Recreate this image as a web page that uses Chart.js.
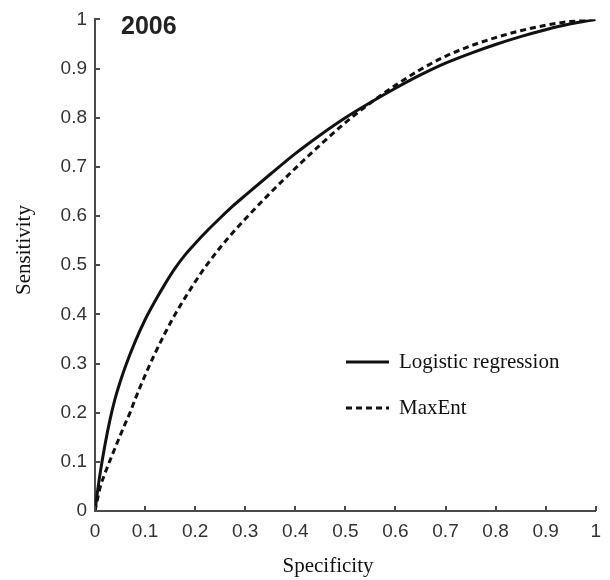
<!DOCTYPE html>
<html>
<head>
<meta charset="utf-8">
<script src="https://cdn.jsdelivr.net/npm/chart.js@4"></script>
<style>
html,body{margin:0;padding:0;background:#fff;}
canvas{display:block;}
</style>
</head>
<body>
<canvas id="c" width="610" height="580"></canvas>
<script>
// ---- data ----
const panelTitle = "2006";
const xTitle = "Specificity";
const yTitle = "Sensitivity";
const seriesNames = ["Logistic regression", "MaxEnt"];
const tickValues = [0, 0.1, 0.2, 0.3, 0.4, 0.5, 0.6, 0.7, 0.8, 0.9, 1];
const tickLabels = ["0", "0.1", "0.2", "0.3", "0.4", "0.5", "0.6", "0.7", "0.8", "0.9", "1"];

const logisticX = [0, 0.005, 0.01, 0.02, 0.03, 0.04, 0.05, 0.06, 0.08, 0.10, 0.12, 0.14, 0.16, 0.18, 0.20, 0.225, 0.25, 0.275, 0.30, 0.35, 0.40, 0.45, 0.50, 0.55, 0.60, 0.65, 0.70, 0.75, 0.80, 0.85, 0.90, 0.95, 1.0];
const logisticY = [0, 0.040, 0.075, 0.135, 0.186, 0.228, 0.262, 0.292, 0.344, 0.389, 0.427, 0.462, 0.494, 0.521, 0.544, 0.571, 0.596, 0.620, 0.642, 0.685, 0.727, 0.765, 0.800, 0.831, 0.860, 0.887, 0.911, 0.931, 0.949, 0.965, 0.979, 0.991, 1.0];

const maxentX = [0, 0.005, 0.01, 0.02, 0.03, 0.04, 0.05, 0.06, 0.07, 0.08, 0.09, 0.10, 0.12, 0.14, 0.16, 0.18, 0.20, 0.22, 0.25, 0.275, 0.30, 0.35, 0.40, 0.45, 0.50, 0.55, 0.60, 0.65, 0.70, 0.75, 0.80, 0.85, 0.90, 0.95, 1.0];
const maxentY = [0, 0.024, 0.047, 0.077, 0.103, 0.128, 0.153, 0.177, 0.200, 0.227, 0.252, 0.276, 0.321, 0.362, 0.400, 0.434, 0.466, 0.496, 0.536, 0.566, 0.594, 0.647, 0.697, 0.745, 0.790, 0.830, 0.866, 0.898, 0.925, 0.946, 0.963, 0.977, 0.988, 0.996, 1.0];

const toPts = (xs, ys) => xs.map((x, i) => ({x: x, y: ys[i]}));

const axisColor = '#4a4a4a';
const tickFont = {family: "'Liberation Sans', Arial, sans-serif", size: 19};
const serifFont = "'Liberation Serif', 'Times New Roman', serif";

const overlay = {
  id: 'overlay',
  afterDraw(chart) {
    const ctx = chart.ctx;
    const xs = chart.scales.x, ys = chart.scales.y;
    const area = chart.chartArea;
    ctx.save();
    // inward tick marks
    ctx.strokeStyle = axisColor;
    ctx.lineWidth = 2;
    tickValues.forEach(v => {
      const px = Math.round(xs.getPixelForValue(v));
      ctx.beginPath(); ctx.moveTo(px, area.bottom); ctx.lineTo(px, area.bottom - 5); ctx.stroke();
      const py = Math.round(ys.getPixelForValue(v));
      ctx.beginPath(); ctx.moveTo(area.left, py); ctx.lineTo(area.left + 5, py); ctx.stroke();
    });
    // panel title
    ctx.fillStyle = '#222';
    ctx.font = "bold 25px 'Liberation Sans', Arial, sans-serif";
    ctx.textAlign = 'left'; ctx.textBaseline = 'middle';
    ctx.fillText(panelTitle, 121, 27);
    // axis titles
    ctx.font = "21px " + serifFont;
    ctx.fillStyle = '#111';
    ctx.textAlign = 'center'; ctx.textBaseline = 'middle';
    ctx.fillText(xTitle, 328, 566);
    ctx.save();
    ctx.translate(24, 250);
    ctx.rotate(-Math.PI / 2);
    ctx.fillText(yTitle, 0, 0);
    ctx.restore();
    // legend
    const ds = chart.data.datasets;
    const legY = [362, 408];
    ds.forEach((d, i) => {
      ctx.beginPath();
      ctx.strokeStyle = d.borderColor;
      ctx.lineWidth = 3.2;
      ctx.setLineDash(d.borderDash || []);
      ctx.moveTo(346, legY[i]); ctx.lineTo(389, legY[i]);
      ctx.stroke();
      ctx.setLineDash([]);
      ctx.fillStyle = '#111';
      ctx.textAlign = 'left'; ctx.textBaseline = 'middle';
      ctx.font = "21px " + serifFont;
      ctx.fillText(d.label, 399, legY[i]);
    });
    ctx.restore();
  }
};

new Chart(document.getElementById('c'), {
  type: 'scatter',
  data: {
    datasets: [
      {
        label: seriesNames[0],
        data: toPts(logisticX, logisticY),
        showLine: true,
        borderColor: '#111',
        borderWidth: 3,
        pointRadius: 0,
        cubicInterpolationMode: 'monotone',
        fill: false
      },
      {
        label: seriesNames[1],
        data: toPts(maxentX, maxentY),
        showLine: true,
        borderColor: '#111',
        borderWidth: 3,
        borderDash: [6, 4],
        pointRadius: 0,
        cubicInterpolationMode: 'monotone',
        fill: false
      }
    ]
  },
  options: {
    responsive: false,
    animation: false,
    layout: {padding: {top: 16, right: 11, left: 0, bottom: 0}},
    plugins: {legend: {display: false}, tooltip: {enabled: false}},
    scales: {
      x: {
        type: 'linear', min: 0, max: 1,
        afterBuildTicks: s => { s.ticks = tickValues.map(v => ({value: v})); },
        afterFit: s => { s.height = 69; },
        grid: {display: true, drawOnChartArea: false, drawTicks: false},
        border: {display: true, color: axisColor, width: 2},
        ticks: {
          padding: 9, color: '#333', font: tickFont, maxRotation: 0, autoSkip: false,
          callback: (v) => { const i = tickValues.findIndex(t => Math.abs(t - v) < 1e-9); return i >= 0 ? tickLabels[i] : ''; }
        }
      },
      y: {
        type: 'linear', min: 0, max: 1,
        afterBuildTicks: s => { s.ticks = tickValues.map(v => ({value: v})); },
        afterFit: s => { s.width = 95; },
        grid: {display: true, drawOnChartArea: false, drawTicks: false},
        border: {display: true, color: axisColor, width: 2},
        ticks: {
          padding: 8, color: '#333', font: tickFont, autoSkip: false,
          callback: (v) => { const i = tickValues.findIndex(t => Math.abs(t - v) < 1e-9); return i >= 0 ? tickLabels[i] : ''; }
        }
      }
    }
  },
  plugins: [overlay]
});
</script>
</body>
</html>
